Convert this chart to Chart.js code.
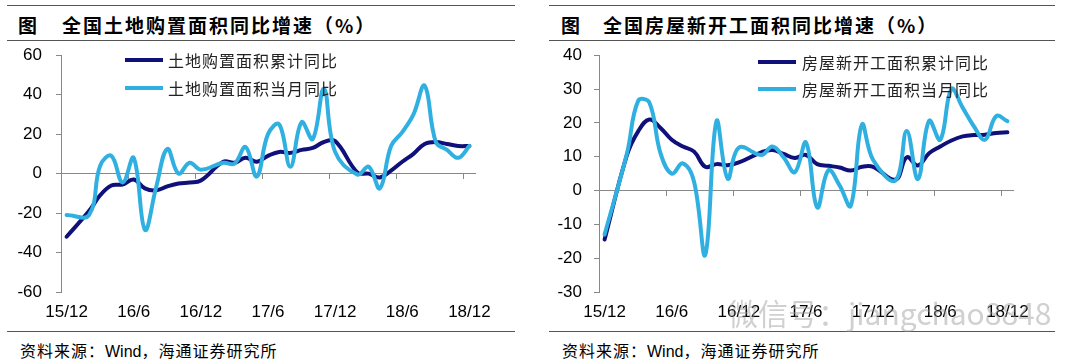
<!DOCTYPE html>
<html>
<head>
<meta charset="utf-8">
<script src="https://cdn.jsdelivr.net/npm/chart.js@4.4.1/dist/chart.umd.min.js"></script>
<style>
    body { margin: 0; background: #fff; }
    #page { position: relative; width: 1080px; height: 364px; overflow: hidden; font-family: "Noto Sans CJK SC", sans-serif; color: #000; }
    .rule { position: absolute; height: 0; border-top: 1px solid #555; }
    .fig { position: absolute; top: 13px; font-size: 19px; font-weight: bold; line-height: 24px; }
    .title { position: absolute; top: 13px; font-size: 19px; font-weight: bold; line-height: 24px; letter-spacing: 2px; white-space: nowrap; }
    .swatch { position: absolute; width: 38px; height: 4px; }
    .legtext { position: absolute; font-size: 16px; line-height: 20px; letter-spacing: 1px; color: #222; white-space: nowrap; }
    .source { position: absolute; top: 340px; font-size: 16px; line-height: 20px; letter-spacing: 1px; white-space: nowrap; }
    .source span { font-family: "Liberation Sans", Arial, sans-serif; letter-spacing: 0; }
    canvas { position: absolute; }
    .mark { position: absolute; left: 728px; top: 294px; font-size: 30px; line-height: 36px; color: rgba(150, 150, 150, 0.45); white-space: nowrap; }
</style>
</head>
<body>
<div id="page">
    <div class="rule" style="left:7px; width:508px; top:5px;"></div>
    <div class="rule" style="left:7px; width:508px; top:40px;"></div>
    <div class="rule" style="left:7px; width:508px; top:331px;"></div>
    <div class="rule" style="left:549px; width:506px; top:5px;"></div>
    <div class="rule" style="left:549px; width:506px; top:40px;"></div>
    <div class="rule" style="left:549px; width:506px; top:331px;"></div>

    <div class="fig" style="left:18px;">图</div>
    <div class="title" style="left:62px;">全国土地购置面积同比增速（%）</div>
    <div class="fig" style="left:561px;">图</div>
    <div class="title" style="left:603px;">全国房屋新开工面积同比增速（%）</div>

    <canvas id="landChart" width="540" height="289" style="left:0; top:31px;"></canvas>
    <canvas id="startsChart" width="540" height="287" style="left:540px; top:33px;"></canvas>

    <div class="swatch" style="left:125px; top:58px; background:#10107a;"></div>
    <div class="legtext" style="left:168px; top:50px;">土地购置面积累计同比</div>
    <div class="swatch" style="left:125px; top:86px; background:#30b0e0;"></div>
    <div class="legtext" style="left:168px; top:78px;">土地购置面积当月同比</div>

    <div class="swatch" style="left:758px; top:60px; background:#10107a;"></div>
    <div class="legtext" style="left:802px; top:52px;">房屋新开工面积累计同比</div>
    <div class="swatch" style="left:758px; top:87px; background:#30b0e0;"></div>
    <div class="legtext" style="left:802px; top:79px;">房屋新开工面积当月同比</div>

    <div class="source" style="left:20px;">资料来源：<span>Wind</span>，海通证券研究所</div>
    <div class="source" style="left:562px;">资料来源：<span>Wind</span>，海通证券研究所</div>

    <div class="mark">微信号：jiangchao8848</div>
</div>

<script>
// Months, 15/12 to 18/12 (January not published, left empty)
const months = [
    '15/12',
    '16/1', '16/2', '16/3', '16/4', '16/5', '16/6', '16/7', '16/8', '16/9', '16/10', '16/11', '16/12',
    '17/1', '17/2', '17/3', '17/4', '17/5', '17/6', '17/7', '17/8', '17/9', '17/10', '17/11', '17/12',
    '18/1', '18/2', '18/3', '18/4', '18/5', '18/6', '18/7', '18/8', '18/9', '18/10', '18/11', '18/12'
];
const shownLabels = ['15/12', '16/6', '16/12', '17/6', '17/12', '18/6', '18/12'];

// Land purchase area, y/y %
const landCum = [-32, null, -19, -11, -6, -5.5, -3, -7.5, -8.5, -6.5, -5, -4.5, -3.5,
    null, 6, 5.5, 8, 6, 9, 11, 10.5, 12, 13, 16, 16.5,
    null, 0.5, 0, -2, 1.5, 6, 10, 15, 16, 15, 14, 14];
const landMonth = [-21, null, -21, 4, 9, -4.5, 8, -28.5, -7, 12.5, 0, 5.5, 2,
    null, 5.5, 5, 13.5, -1.5, 20, 25, 3.5, 26, 17.5, 43, 11,
    null, -0.5, 3.5, -7.5, 14, 21, 30, 44.5, 16, 12, 8, 14];

// New construction starts area, y/y %
const startsCum = [-14.5, null, 10.5, 17.5, 21, 18.5, 15, 13, 11.5, 7, 7.8, 7.5, 8.3,
    null, 11.3, 12, 10.8, 9.6, 10.5, 7.8, 7.3, 6.8, 5.9, 7, 7,
    null, 3.2, 9.8, 7.4, 11, 13, 14.8, 16, 16.4, 16.5, 17, 17.2];
const startsMonth = [-13, null, 11, 26.5, 26, 11, 5, 8, 2.5, -19, 20.5, 3.5, 12.7,
    null, 10.5, 13, 9.8, 5.4, 14.2, -5, 6, 1.5, -4.5, 19.5, 9,
    null, 3, 17.6, 3.4, 20.6, 15, 30, 24.5, 19, 15, 22, 20.5];

const DARK = '#10107a';
const LIGHT = '#30b0e0';
const AXIS = '#888888';

Chart.defaults.font.family = '"Liberation Sans", Arial, sans-serif';
Chart.defaults.color = '#000';

function buildChart(id, cumData, monthData, yMin, yMax, yStep, axisWidth, labelPad, rightPad) {
    const ctx = document.getElementById(id).getContext('2d');
    return new Chart(ctx, {
        type: 'line',
        data: {
            labels: months,
            datasets: [
                {
                    label: 'cum',
                    data: cumData,
                    borderColor: DARK,
                    borderWidth: 4,
                    order: 2
                },
                {
                    label: 'month',
                    data: monthData,
                    borderColor: LIGHT,
                    borderWidth: 4,
                    order: 1
                }
            ]
        },
        options: {
            responsive: false,
            animation: false,
            spanGaps: true,
            layout: { padding: { left: 0, right: rightPad, top: 0, bottom: 0 } },
            elements: {
                point: { radius: 0 },
                line: { tension: 0.4, borderCapStyle: 'round', borderJoinStyle: 'round' }
            },
            plugins: { legend: { display: false }, tooltip: { enabled: false } },
            scales: {
                y: {
                    min: yMin,
                    max: yMax,
                    afterFit: scale => { scale.width = axisWidth; },
                    ticks: { stepSize: yStep, padding: labelPad, font: { size: 17 }, color: '#000' },
                    grid: { drawOnChartArea: false, drawTicks: true, tickLength: 5, color: AXIS },
                    border: { display: true, color: AXIS, width: 1 }
                },
                // zero line with tick marks every six months
                x: {
                    type: 'category',
                    position: { y: 0 },
                    offset: true,
                    afterFit: scale => { scale.height = 0; },
                    ticks: { autoSkip: false, maxRotation: 0, callback: () => '' },
                    grid: {
                        offset: true,
                        drawOnChartArea: false,
                        drawTicks: true,
                        tickLength: 5,
                        color: c => (c.index > 0 && c.index % 6 === 0) ? AXIS : 'rgba(0,0,0,0)'
                    },
                    border: { display: true, color: AXIS, width: 1 }
                },
                // month labels along the bottom
                x2: {
                    type: 'category',
                    position: 'bottom',
                    offset: true,
                    afterFit: scale => { scale.height = 28; },
                    ticks: {
                        autoSkip: false,
                        maxRotation: 0,
                        padding: 10,
                        font: { size: 17 },
                        color: '#000',
                        callback: (v, i) => shownLabels.includes(months[i]) ? months[i] : null
                    },
                    grid: { display: false, drawTicks: false },
                    border: { display: false }
                }
            }
        }
    });
}

buildChart('landChart', landCum, landMonth, -60, 60, 20, 61, 14, 65);
buildChart('startsChart', startsCum, startsMonth, -30, 40, 10, 59, 12, 67);
</script>
</body>
</html>
